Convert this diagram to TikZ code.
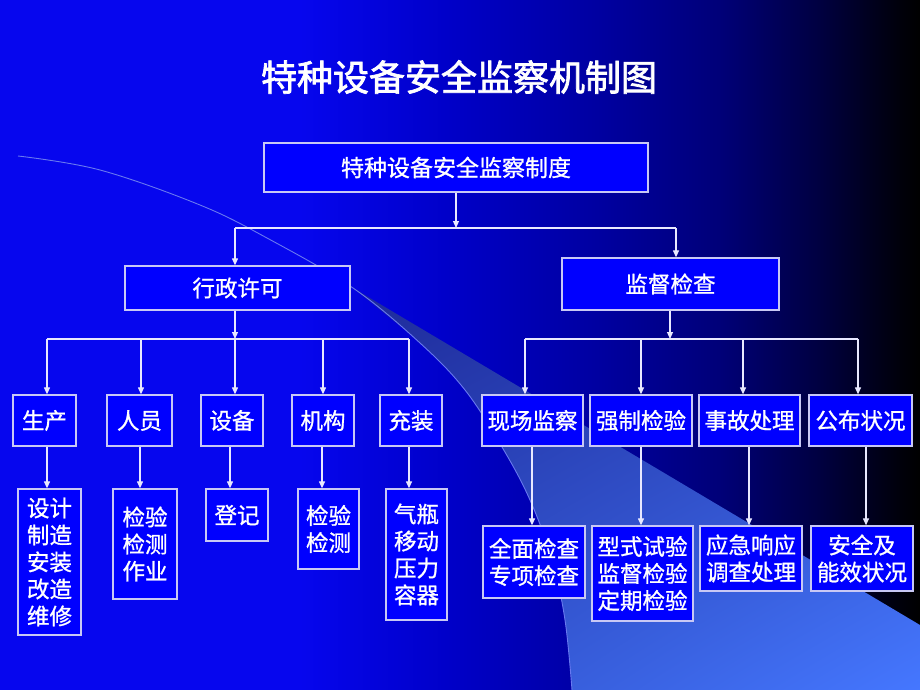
\documentclass[tikz,border=0pt]{standalone}
\usepackage{fontspec}
\usetikzlibrary{arrows.meta,shadings}
\newfontfamily\cjk[FakeBold=1]{Noto Sans CJK SC}
\newfontfamily\cjktitle[FakeBold=2]{Noto Sans CJK SC}
\definecolor{boxfill}{HTML}{0000FF}
\definecolor{boxline}{HTML}{C8C8F5}
\definecolor{conn}{HTML}{E8E8FF}
\definecolor{bgA}{HTML}{0606EE}
\definecolor{bgB}{HTML}{0000C8}
\definecolor{bgC}{HTML}{0000A0}
\definecolor{bgD}{HTML}{000078}
\definecolor{bgE}{HTML}{000040}
\definecolor{bgF}{HTML}{00000A}
\definecolor{wA}{HTML}{1E2A9A}
\definecolor{wB}{HTML}{2C46B8}
\definecolor{wC}{HTML}{3050C8}
\definecolor{wD}{HTML}{4577FF}
\definecolor{swline}{HTML}{6878F0}
\begin{document}
\begin{tikzpicture}[x=1pt,y=-1pt,
  box/.style={draw=boxline, line width=1.3pt, fill=boxfill, text=white,
    inner sep=0pt, align=center, font=\cjk\fontsize{22.5}{27}\selectfont},
  bx/.style 2 args={box, minimum width=#1pt, minimum height=#2pt},
  arr/.style={draw=conn, line width=1.2pt, -{Triangle[length=7pt,width=6pt]}},
  bus/.style={draw=conn, line width=1.2pt},
  swoosh/.style={draw=swline, line width=0.9pt}]
\useasboundingbox (0,0) rectangle (920,690);
% background
\fill[bgA] (0,0) rectangle (300.5,690);
\shade[left color=bgA, right color=bgB] (300,0) rectangle (450.5,690);
\shade[left color=bgB, right color=bgC] (450,0) rectangle (600.5,690);
\shade[left color=bgC, right color=bgD] (600,0) rectangle (720.5,690);
\shade[left color=bgD, right color=bgE] (720,0) rectangle (820.5,690);
\shade[left color=bgE, right color=bgF] (820,0) rectangle (900.5,690);
\shade[left color=bgF, right color=black] (900,0) rectangle (920,690);
% swoosh
\shade[upper left=wA, upper right=wB, lower left=wC, lower right=wD]
  (353,288) -- (920,625) -- (920,690) -- (572,690)
  -- plot[smooth, tension=0.6] coordinates {(572,690) (565,620) (552,560) (530,500) (502,447) (465,390) (420,343) (353,288)} -- cycle;
\draw[swoosh] plot[smooth, tension=0.6] coordinates {(18,156) (100,170) (200,205) (267,238) (353,288) (420,343) (465,390) (502,447) (530,500) (552,560) (565,620) (572,690)};
% title
\node[text=white, font=\cjktitle\fontsize{36}{40}\selectfont] (title) at (459,77) {特种设备安全监察机制图};
% level 1 and 2
\node[bx={384}{49}, font=\cjk\fontsize{23}{27}\selectfont] (top) at (456,167.5) {特种设备安全监察制度};
\node[bx={225}{44}] (xz) at (237.5,288) {行政许可};
\node[bx={217}{52}] (jc) at (670.5,284) {监督检查};
% level 3 left
\node[bx={63}{51}] (sc) at (44.5,420.5) {生产};
\node[bx={65}{51}] (ry) at (139.5,420.5) {人员};
\node[bx={62}{51}] (sb) at (232,420.5) {设备};
\node[bx={62}{51}] (jg) at (323,420.5) {机构};
\node[bx={62}{51}] (cz) at (411,420.5) {充装};
% level 3 right
\node[bx={101}{51}] (xc) at (532.5,420.5) {现场监察};
\node[bx={102}{51}] (qz) at (641,420.5) {强制检验};
\node[bx={101}{51}] (sg) at (749.5,420.5) {事故处理};
\node[bx={103}{51}] (gb) at (860.5,420.5) {公布状况};
% level 4 left
\node[bx={63}{146}] (d1) at (49.5,562) {设计\\制造\\安装\\改造\\维修};
\node[bx={64}{110}] (d2) at (145,544) {检验\\检测\\作业};
\node[bx={62}{52}] (d3) at (237,515) {登记};
\node[bx={61}{80}] (d4) at (328.5,529) {检验\\检测};
\node[bx={61}{131}] (d5) at (416.5,554.5) {气瓶\\移动\\压力\\容器};
% level 4 right
\node[bx={102}{72}] (e1) at (534,562) {全面检查\\专项检查};
\node[bx={101}{95}] (e2) at (642.5,573.5) {型式试验\\监督检验\\定期检验};
\node[bx={102}{65}] (e3) at (751,558.5) {应急响应\\调查处理};
\node[bx={102}{65}] (e4) at (862,558.5) {安全及\\能效状况};
% connectors level 1 -> 2
\coordinate (j0) at (456,228);
\coordinate (bL) at (235,228);
\coordinate (bR) at (676,228);
\draw[arr] (top) -- (j0);
\draw[bus] (bL) -- (bR);
\draw[arr] (bL) -- (bL |- xz.north);
\draw[arr] (bR) -- (bR |- jc.north);
% level 2 -> 3 left
\coordinate (jL) at (235,339);
\draw[arr] (xz.south -| jL) -- (jL);
\draw[bus] (47,339) coordinate (lA) -- (409,339) coordinate (lB);
\foreach \x/\n in {47/sc,141/ry,235/sb,323/jg,409/cz}{
  \coordinate (t) at (\x,339);
  \draw[arr] (t) -- (t |- \n.north);
}
% level 2 -> 3 right
\coordinate (jR) at (670,339);
\draw[arr] (jc.south -| jR) -- (jR);
\draw[bus] (525,339) coordinate (rA) -- (858,339) coordinate (rB);
\foreach \x/\n in {525/xc,641/qz,743/sg,858/gb}{
  \coordinate (t) at (\x,339);
  \draw[arr] (t) -- (t |- \n.north);
}
% level 3 -> 4
\foreach \x/\p/\c in {47/sc/d1,140/ry/d2,230/sb/d3,322/jg/d4,409/cz/d5,532/xc/e1,641/qz/e2,749/sg/e3,866/gb/e4}{
  \coordinate (t) at (\x,0);
  \draw[arr] (\p.south -| t) -- (\c.north -| t);
}
\end{tikzpicture}
\end{document}
